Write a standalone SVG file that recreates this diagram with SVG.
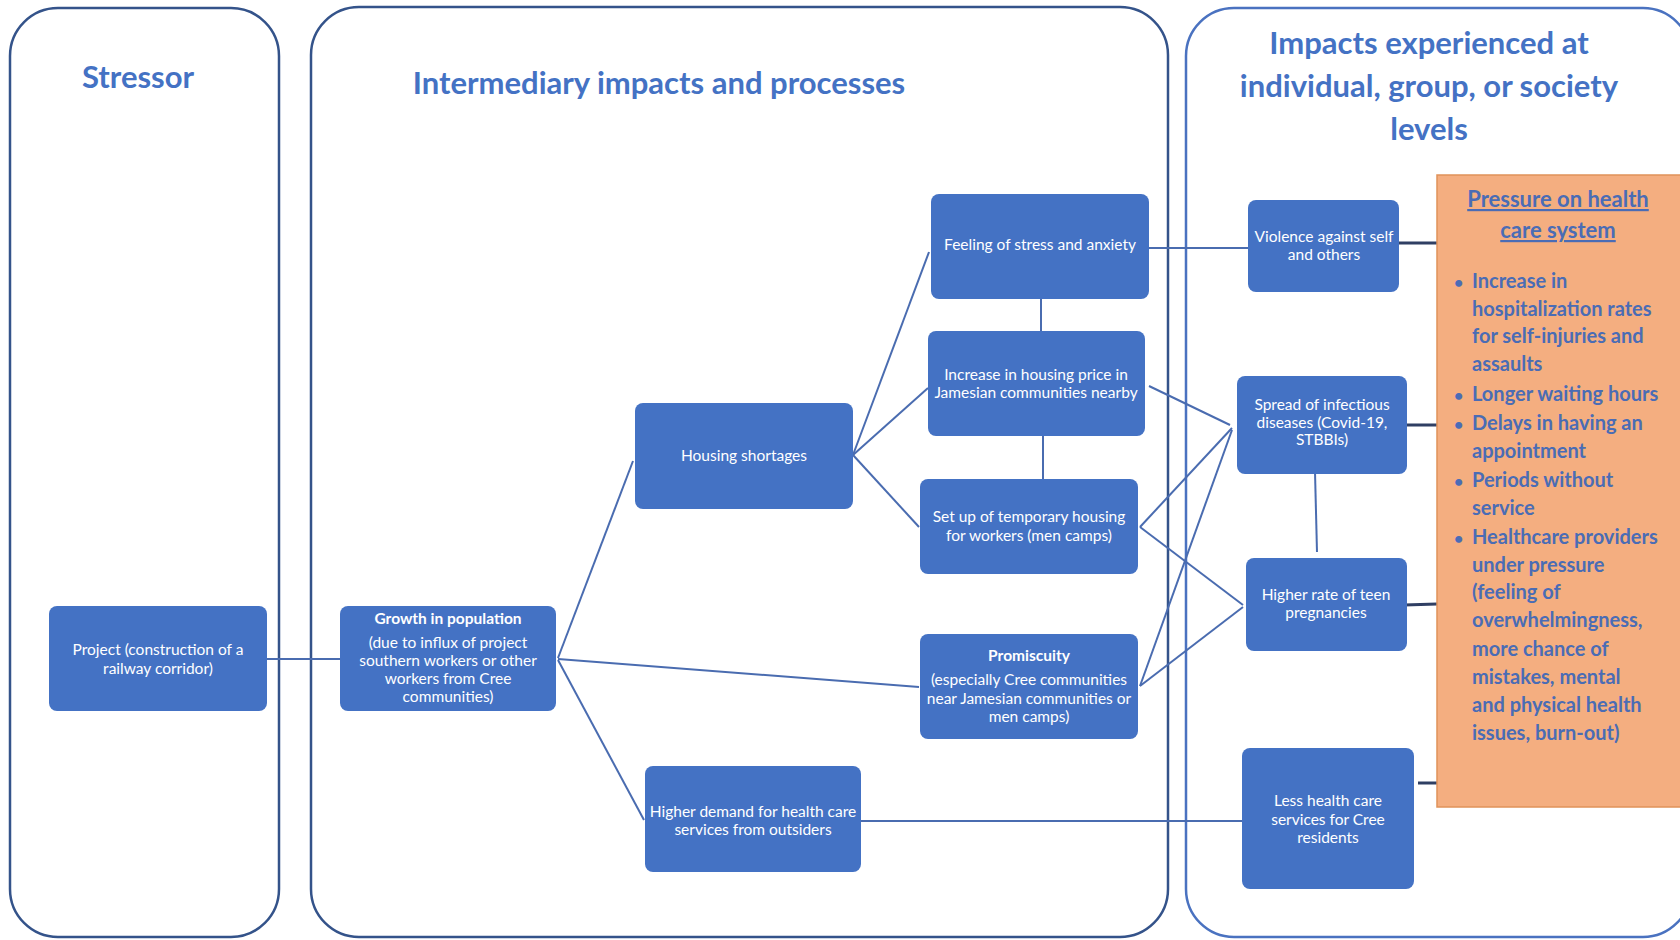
<svg xmlns="http://www.w3.org/2000/svg" width="1680" height="940" viewBox="0 0 1680 940">
<style>
.panel{fill:#fff;stroke:#34538a;stroke-width:2.5}
.panel2{fill:#fff;stroke:#4a72c0;stroke-width:2.5}
.box{fill:#4472C4;stroke:none}
.t{font-family:Lato,"Open Sans",sans-serif;font-size:15.5px;fill:#fff;text-anchor:middle}
.tb{font-family:Lato,"Open Sans",sans-serif;font-size:15.5px;fill:#fff;text-anchor:middle;font-weight:bold}
.h{font-family:Lato,"Open Sans",sans-serif;font-size:31px;fill:#4472C4;font-weight:bold;text-anchor:middle}
.ob{font-family:Lato,"Open Sans",sans-serif;font-size:20px;fill:#4a6cb5;font-weight:bold}
.ot{font-family:Lato,"Open Sans",sans-serif;font-size:22px;fill:#4a6cb5;font-weight:bold;text-anchor:middle;text-decoration:underline}
.c{stroke:#4a6cb0;stroke-width:2;fill:none}
.cd{stroke:#2f3f63;stroke-width:3;fill:none}
</style>
<rect width="1680" height="940" fill="#fff"/>
<g id="panel-stressor">
<rect class="panel" x="10" y="8" width="269" height="929" rx="48"/>
<text class="h" x="138" y="88">Stressor</text>
</g>
<g id="panel-intermediary">
<rect class="panel" x="311" y="7" width="857" height="930" rx="48"/>
<text class="h" x="659" y="94">Intermediary impacts and processes</text>
</g>
<g id="panel-impacts">
<rect class="panel2" x="1186" y="8" width="505" height="929" rx="48"/>
<text class="h" x="1429" y="54">Impacts experienced at</text>
<text class="h" x="1429" y="97">individual, group, or society</text>
<text class="h" x="1429" y="140">levels</text>
</g>
<g id="connectors">
<line class="c" x1="267" y1="659" x2="340" y2="659"/>
<line class="c" x1="558" y1="658" x2="633" y2="461"/>
<line class="c" x1="558" y1="659" x2="919" y2="687"/>
<line class="c" x1="558" y1="660" x2="644" y2="820"/>
<line class="c" x1="853" y1="455" x2="929" y2="252"/>
<line class="c" x1="853" y1="455" x2="928" y2="388"/>
<line class="c" x1="853" y1="455" x2="919" y2="527"/>
<line class="c" x1="1041" y1="294" x2="1041" y2="338"/>
<line class="c" x1="1043" y1="431" x2="1043" y2="482"/>
<line class="c" x1="1149" y1="248" x2="1248" y2="248"/>
<line class="c" x1="1149" y1="386" x2="1230" y2="425"/>
<line class="c" x1="1140" y1="527" x2="1232" y2="428"/>
<line class="c" x1="1140" y1="527" x2="1243" y2="605"/>
<line class="c" x1="1140" y1="686" x2="1232" y2="430"/>
<line class="c" x1="1140" y1="686" x2="1243" y2="607"/>
<line class="c" x1="1315" y1="472" x2="1317" y2="552"/>
<line class="c" x1="861" y1="821" x2="1242" y2="821"/>
<line class="cd" x1="1398" y1="243" x2="1437" y2="243"/>
<line class="cd" x1="1403" y1="425" x2="1437" y2="425"/>
<line class="cd" x1="1404" y1="605" x2="1437" y2="604"/>
<line class="cd" x1="1418" y1="783" x2="1437" y2="783"/>
</g>
<g id="n-project">
<rect class="box" x="49" y="606" width="218" height="105" rx="8"/>
<text class="t" x="158" y="655">Project (construction of a</text>
<text class="t" x="158" y="674">railway corridor)</text>
</g>
<g id="n-growth">
<rect class="box" x="340" y="606" width="216" height="105" rx="8"/>
<text class="tb" x="448" y="624">Growth in population</text>
<text class="t" x="448" y="648">(due to influx of project</text>
<text class="t" x="448" y="666">southern workers or other</text>
<text class="t" x="448" y="684">workers from Cree</text>
<text class="t" x="448" y="702">communities)</text>
</g>
<g id="n-housing">
<rect class="box" x="635" y="403" width="218" height="106" rx="8"/>
<text class="t" x="744" y="461">Housing shortages</text>
</g>
<g id="n-stress">
<rect class="box" x="931" y="194" width="218" height="105" rx="8"/>
<text class="t" x="1040" y="250">Feeling of stress and anxiety</text>
</g>
<g id="n-price">
<rect class="box" x="928" y="331" width="217" height="105" rx="8"/>
<text class="t" x="1036" y="380">Increase in housing price in</text>
<text class="t" x="1036" y="398">Jamesian communities nearby</text>
</g>
<g id="n-camps">
<rect class="box" x="920" y="479" width="218" height="95" rx="8"/>
<text class="t" x="1029" y="522">Set up of temporary housing</text>
<text class="t" x="1029" y="541">for workers (men camps)</text>
</g>
<g id="n-promiscuity">
<rect class="box" x="920" y="634" width="218" height="105" rx="8"/>
<text class="tb" x="1029" y="661">Promiscuity</text>
<text class="t" x="1029" y="685">(especially Cree communities</text>
<text class="t" x="1029" y="704">near Jamesian communities or</text>
<text class="t" x="1029" y="722">men camps)</text>
</g>
<g id="n-demand">
<rect class="box" x="645" y="766" width="216" height="106" rx="8"/>
<text class="t" x="753" y="817">Higher demand for health care</text>
<text class="t" x="753" y="835">services from outsiders</text>
</g>
<g id="n-violence">
<rect class="box" x="1248" y="200" width="151" height="92" rx="8"/>
<text class="t" x="1324" y="242">Violence against self</text>
<text class="t" x="1324" y="260">and others</text>
</g>
<g id="n-spread">
<rect class="box" x="1237" y="376" width="170" height="98" rx="8"/>
<text class="t" x="1322" y="410">Spread of infectious</text>
<text class="t" x="1322" y="428">diseases (Covid-19,</text>
<text class="t" x="1322" y="445">STBBIs)</text>
</g>
<g id="n-teen">
<rect class="box" x="1246" y="558" width="161" height="93" rx="8"/>
<text class="t" x="1326" y="600">Higher rate of teen</text>
<text class="t" x="1326" y="618">pregnancies</text>
</g>
<g id="n-less">
<rect class="box" x="1242" y="748" width="172" height="141" rx="8"/>
<text class="t" x="1328" y="806">Less health care</text>
<text class="t" x="1328" y="825">services for Cree</text>
<text class="t" x="1328" y="843">residents</text>
</g>
<g id="n-pressure">
<rect x="1437" y="175" width="244" height="632" fill="#F4AE80" stroke="#e0925a" stroke-width="1.5"/>
<text class="ot" x="1558" y="207">Pressure on health</text>
<text class="ot" x="1558" y="238">care system</text>
<g class="ob">
<text x="1454" y="288" font-size="16">•</text><text x="1472" y="288">Increase in</text>
<text x="1472" y="316">hospitalization rates</text>
<text x="1472" y="343">for self-injuries and</text>
<text x="1472" y="371">assaults</text>
<text x="1454" y="401" font-size="16">•</text><text x="1472" y="401">Longer waiting hours</text>
<text x="1454" y="430" font-size="16">•</text><text x="1472" y="430">Delays in having an</text>
<text x="1472" y="458">appointment</text>
<text x="1454" y="487" font-size="16">•</text><text x="1472" y="487">Periods without</text>
<text x="1472" y="515">service</text>
<text x="1454" y="544" font-size="16">•</text><text x="1472" y="544">Healthcare providers</text>
<text x="1472" y="572">under pressure</text>
<text x="1472" y="599">(feeling of</text>
<text x="1472" y="627">overwhelmingness,</text>
<text x="1472" y="656">more chance of</text>
<text x="1472" y="684">mistakes, mental</text>
<text x="1472" y="712">and physical health</text>
<text x="1472" y="740">issues, burn-out)</text>
</g>
</g>
</svg>
